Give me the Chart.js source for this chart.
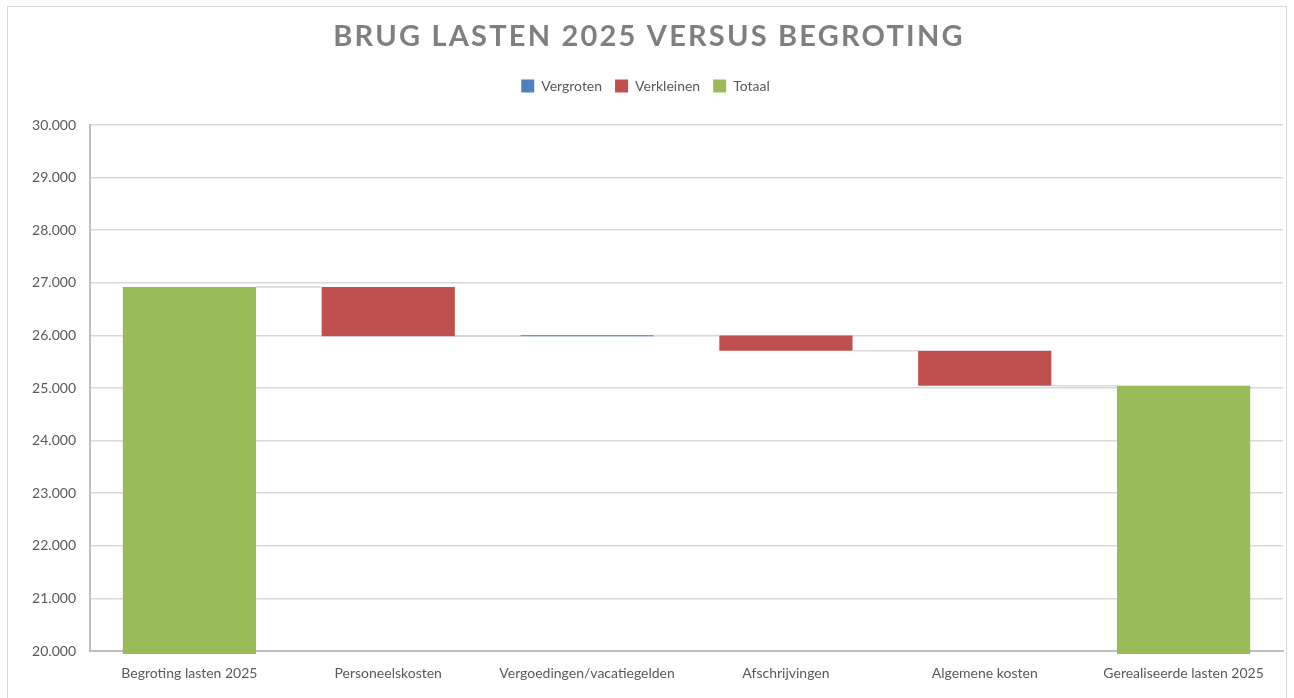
<!DOCTYPE html>
<html>
<head>
<meta charset="utf-8">
<script src="https://cdn.jsdelivr.net/npm/chart.js"></script>
<style>
  html, body { margin: 0; padding: 0; background: #fff; }
  #wrap { width: 1294px; height: 698px; }
</style>
</head>
<body>
<div id="wrap"><canvas id="chart" width="1294" height="698"></canvas></div>
<script>
const title = 'BRUG LASTEN 2025 VERSUS BEGROTING';
const categories = ['Begroting lasten 2025', 'Personeelskosten', 'Vergoedingen/vacatiegelden', 'Afschrijvingen', 'Algemene kosten', 'Gerealiseerde lasten 2025'];
// begroting, then changes per post (x 1.000), then realised total
const begroting = 26920;
const changes = [-935, 15, -290, -665];
const gerealiseerd = 25045;
const yTicks = [20000, 21000, 22000, 23000, 24000, 25000, 26000, 27000, 28000, 29000, 30000];

// floating bars built from the values above
const vergroten = [null];
const verkleinen = [null];
const totaal = [[0, begroting]];
const levels = [begroting];
let running = begroting;
changes.forEach(c => {
  const next = running + c;
  const range = [Math.min(running, next), Math.max(running, next)];
  vergroten.push(c > 0 ? range : null);
  verkleinen.push(c < 0 ? range : null);
  totaal.push(null);
  running = next;
  levels.push(running);
});
vergroten.push(null);
verkleinen.push(null);
totaal.push([0, gerealiseerd]);

const fmt = v => v.toLocaleString('de-DE');

const frame = {
  id: 'frame',
  afterInit(chart) {
    // extra room between legend and plot
    const orig = chart.legend.fit;
    chart.legend.fit = function () { orig.call(this); this.height += 22; };
  },
  beforeDraw(chart) {
    const ctx = chart.ctx;
    ctx.save();
    ctx.fillStyle = '#fff';
    ctx.fillRect(0, 0, chart.width, chart.height);
    ctx.strokeStyle = '#d9d9d9';
    ctx.lineWidth = 1;
    ctx.strokeRect(7.5, 6.5, chart.width - 15, chart.height + 10);
    ctx.restore();
  },
  afterDraw(chart) {
    const ctx = chart.ctx;
    ctx.save();
    ctx.font = 'bold 29px Lato';
    ctx.letterSpacing = '2.2px';
    ctx.fillStyle = '#7f7f7f';
    ctx.textAlign = 'center';
    ctx.textBaseline = 'middle';
    ctx.fillText(title, chart.width / 2 + 2, 37);
    ctx.restore();
  }
};

const connectors = {
  id: 'connectors',
  afterDatasetsDraw(chart) {
    const ctx = chart.ctx;
    const y = chart.scales.y;
    const barAt = i => {
      for (let d = 0; d < chart.data.datasets.length; d++) {
        const el = chart.getDatasetMeta(d).data[i];
        if (chart.data.datasets[d].data[i] != null && el) return el;
      }
    };
    ctx.save();
    ctx.strokeStyle = '#d9d9d9';
    ctx.lineWidth = 1.5;
    for (let i = 0; i < levels.length; i++) {
      const a = barAt(i), b = barAt(i + 1);
      if (!a || !b) continue;
      const py = y.getPixelForValue(levels[i]);
      ctx.beginPath();
      ctx.moveTo(a.x + a.width / 2, py);
      ctx.lineTo(b.x - b.width / 2, py);
      ctx.stroke();
    }
    ctx.restore();
  }
};

const barStyle = { grouped: false, barPercentage: 0.67, categoryPercentage: 1, borderWidth: 0, clip: { left: 0, right: 0, top: 0, bottom: 3 } };

const ctx = document.getElementById('chart').getContext('2d');
new Chart(ctx, {
  type: 'bar',
  data: {
    labels: categories,
    datasets: [
      Object.assign({ label: 'Vergroten', data: vergroten, backgroundColor: '#4f81bd', minBarLength: 1 }, barStyle),
      Object.assign({ label: 'Verkleinen', data: verkleinen, backgroundColor: '#c0504d' }, barStyle),
      Object.assign({ label: 'Totaal', data: totaal, backgroundColor: '#9bbb59' }, barStyle)
    ]
  },
  options: {
    responsive: false,
    animation: false,
    layout: { padding: { top: 66, left: 8, right: 11, bottom: 0 } },
    plugins: {
      title: { display: false },
      tooltip: { enabled: false },
      legend: {
        position: 'top',
        labels: {
          color: '#595959',
          font: { family: 'Lato', size: 14 },
          boxWidth: 13,
          boxHeight: 13,
          padding: 13
        }
      }
    },
    scales: {
      x: {
        grid: { display: false, drawTicks: false },
        border: { color: '#bfbfbf', width: 2 },
        ticks: { color: '#595959', font: { family: 'Lato', size: 14 }, padding: 14, maxRotation: 0 },
        afterFit(scale) { scale.height = 47; }
      },
      y: {
        min: 20000,
        max: 30000,
        afterBuildTicks(scale) { scale.ticks = yTicks.map(v => ({ value: v })); },
        grid: { color: '#d9d9d9', lineWidth: 1.5, drawTicks: false },
        border: { color: '#bfbfbf', width: 2 },
        ticks: { color: '#595959', font: { family: 'Lato', size: 14 }, padding: 14, callback: v => fmt(v) },
        afterFit(scale) { scale.width = 82; }
      }
    }
  },
  plugins: [frame, connectors]
});
</script>
</body>
</html>
